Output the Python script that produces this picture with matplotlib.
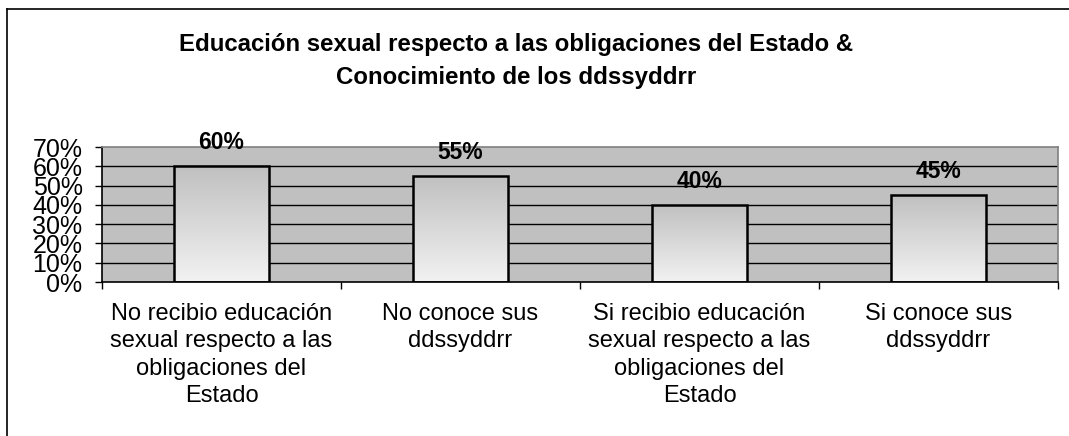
import matplotlib
matplotlib.use("Agg")
import matplotlib.pyplot as plt
import numpy as np
from matplotlib.lines import Line2D
from matplotlib.ticker import FixedLocator
from matplotlib.colors import LinearSegmentedColormap

plt.rcParams['font.family'] = ['Liberation Sans', 'DejaVu Sans']

categories = [
    "No recibio educación\nsexual respecto a las\nobligaciones del\nEstado",
    "No conoce sus\nddssyddrr",
    "Si recibio educación\nsexual respecto a las\nobligaciones del\nEstado",
    "Si conoce sus\nddssyddrr",
]
values = [60, 55, 40, 45]
value_labels = ["60%", "55%", "40%", "45%"]
yticks = [0, 10, 20, 30, 40, 50, 60, 70]
ytick_labels = ["0%", "10%", "20%", "30%", "40%", "50%", "60%", "70%"]
title = "Educación sexual respecto a las obligaciones del Estado &\nConocimiento de los ddssyddrr"

W, H = 1069, 436
fig = plt.figure(figsize=(W / 100, H / 100), dpi=100)
fig.patch.set_facecolor("white")

# outer chart frame (extends beyond image on right/bottom)
fig.add_artist(Line2D([7 / W, 1.0], [1 - 9 / H, 1 - 9 / H], color="black", lw=1.2, transform=fig.transFigure))
fig.add_artist(Line2D([7 / W, 7 / W], [0, 1 - 9 / H], color="black", lw=1.2, transform=fig.transFigure))

ax = fig.add_axes([102 / W, 1 - 282 / H, (1058 - 102) / W, (282 - 147) / H])
ax.set_facecolor("#C0C0C0")

for y in yticks[1:-1]:
    ax.axhline(y, color="black", lw=1.0, zorder=1)

x = np.arange(len(values))
bars = ax.bar(x, values, width=0.4, facecolor="none", edgecolor="black", linewidth=1.8, zorder=3)

grad = np.linspace(0, 1, 256).reshape(-1, 1)
cmap = LinearSegmentedColormap.from_list("g", ["#F2F2F2", "#C0C0C0"])
for b in bars:
    x0, y0 = b.get_x(), b.get_y()
    w, h = b.get_width(), b.get_height()
    ax.imshow(grad, extent=[x0, x0 + w, y0, y0 + h], origin="lower", cmap=cmap,
              aspect="auto", zorder=2, interpolation="bicubic")
ax.set_xlim(-0.5, len(values) - 0.5)
ax.set_ylim(0, 70)

for xi, v, lab in zip(x, values, value_labels):
    ax.annotate(lab, (xi, v), xytext=(0, 8.5), textcoords="offset points",
                ha="center", va="bottom", fontsize=16.5, fontweight="bold", zorder=5)

ax.set_yticks(yticks)
ax.set_yticklabels(ytick_labels, fontsize=18)
ax.tick_params(axis="y", length=5, width=1, pad=9, direction="out")

ax.set_xticks(x)
ax.set_xticklabels(categories, fontsize=17, linespacing=1.32)
ax.tick_params(axis="x", which="major", length=0, pad=15)
ax.xaxis.set_minor_locator(FixedLocator(np.arange(-0.5, len(values), 1.0)))
ax.tick_params(axis="x", which="minor", length=5, width=1, direction="out")

ax.spines["left"].set_color("black")
ax.spines["bottom"].set_color("black")
ax.spines["top"].set_color("#808080")
ax.spines["right"].set_color("#808080")
for s in ax.spines.values():
    s.set_linewidth(1.2)

fig.text(516 / W, 1 - 61 / H, title, ha="center", va="center", fontsize=17.3,
         fontweight="bold", linespacing=1.6)

fig.savefig("out.png", dpi=100)
